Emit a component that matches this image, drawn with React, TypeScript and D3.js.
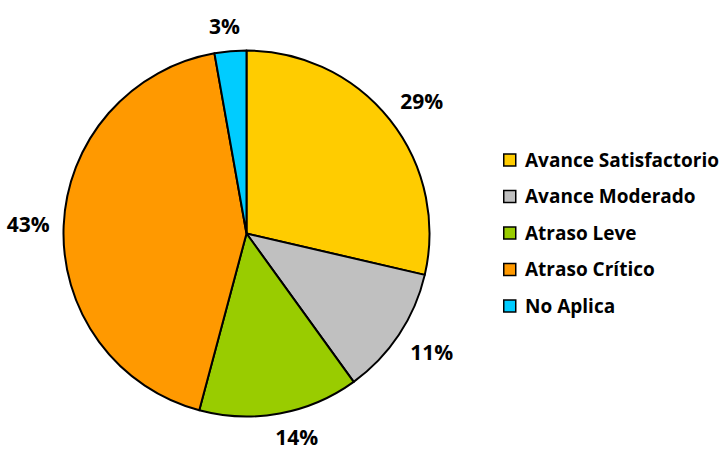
import React from "react";
import * as d3 from "d3";

const categories = ["Avance Satisfactorio", "Avance Moderado", "Atraso Leve", "Atraso Crítico", "No Aplica"];
const values = [28.6, 11.4, 14.1, 43.0, 2.8];
const colors = ["#FFCC00", "#C0C0C0", "#99CC00", "#FF9900", "#00CCFF"];

const W = 725, H = 450;
const cx = 246.5, cy = 233.5, R = 183, LR = 199;
const FONT = "'Open Sans', Lato, sans-serif";
const LABEL_SIZE = 21;
const LABEL_H = 17;

const clamp = (v: number) => Math.max(-1, Math.min(1, v));

export default function App() {
  const total = d3.sum(values);
  const pie = d3.pie<number>().sort(null).value((d) => d);
  const arcs = pie(values);
  const arc = d3.arc<d3.PieArcDatum<number>>().innerRadius(0).outerRadius(R);
  const labelArc = d3.arc<d3.PieArcDatum<number>>().innerRadius(LR).outerRadius(LR);
  const fmt = d3.format(".0%");
  const legendY = d3.scaleLinear().domain([0, categories.length - 1]).range([160, 306]);
  return (
    <svg width={W} height={H} style={{ position: "absolute", left: 0, top: 0, background: "#fff" }}>
      <g transform={`translate(${cx},${cy})`}>
        {arcs.map((a, i) => (
          <path key={i} d={arc(a) || ""} fill={colors[i]} stroke="#000" strokeWidth={2} strokeLinejoin="round" />
        ))}
        {arcs.map((a, i) => {
          const label = fmt(values[i] / total);
          const [px, py] = labelArc.centroid(a);
          const mid = (a.startAngle + a.endAngle) / 2;
          const w = label.length * 0.62 * LABEL_SIZE;
          const x = px + (w / 2) * clamp(4 * Math.sin(mid));
          const y = py - (LABEL_H / 2) * clamp(2 * Math.cos(mid));
          return (
            <text key={i} x={x} y={y} dy="0.36em" textAnchor="middle" fontFamily={FONT} fontWeight={700} fontSize={LABEL_SIZE} fill="#000">
              {label}
            </text>
          );
        })}
      </g>
      {categories.map((c, i) => (
        <g key={c} transform={`translate(503,${legendY(i)})`}>
          <rect x={0.75} y={-6} width={12} height={12} fill={colors[i]} stroke="#000" strokeWidth={1.5} />
          <text x={22} y={0} dy="0.36em" fontFamily={FONT} fontWeight={700} fontSize={19} fill="#000">
            {c}
          </text>
        </g>
      ))}
    </svg>
  );
}
